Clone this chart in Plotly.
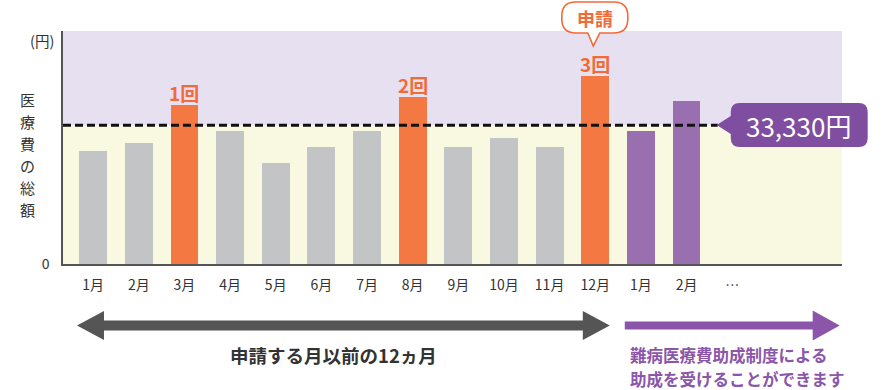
import plotly.graph_objects as go

# ---- data ----
months = ["1月", "2月", "3月", "4月", "5月", "6月", "7月", "8月", "9月", "10月", "11月", "12月", "1月", "2月", "…"]
costs = [27200, 29100, 38300, 32000, 24300, 28200, 32000, 40200, 28200, 30200, 28200, 45100, 32000, 39200]
kinds = ["g", "g", "o", "g", "g", "g", "g", "o", "g", "g", "g", "o", "p", "p"]
count_labels = {2: "1回", 7: "2回", 11: "3回"}
threshold = 33330
threshold_label = "33,330円"
y_title = "医療費の総額"
note_lines = ["難病医療費助成制度による", "助成を受けることができます"]

GRAY = "#c3c4c6"
ORANGE = "#f47841"
ORANGE_T = "#f26a38"
PURPLE = "#9a6fb0"
PURPLE_D = "#7f4ea0"
PURPLE_T = "#8b56a9"
BG_P = "#e7e0f0"
BG_Y = "#f9f8e1"
FONT = "Noto Sans CJK JP"

W, H = 886, 390
L, R, T, B = 63, 842.3, 31, 264
YMAX = 56000

def px(x):
    return (x - L) / (R - L)

def py(y):
    return (B - y) / (B - T)

def P(x, y):
    return f"{px(x):.5f},{py(y):.5f}"

color_map = {"g": GRAY, "o": ORANGE, "p": PURPLE}
xs = list(range(len(costs)))

fig = go.Figure()
fig.add_trace(go.Bar(
    x=xs, y=costs, width=0.61,
    marker=dict(color=[color_map[k] for k in kinds], line=dict(width=0)),
    hoverinfo="skip", showlegend=False,
))

shapes = []
# background bands
shapes.append(dict(type="rect", xref="paper", yref="y", x0=0, x1=1, y0=0, y1=threshold,
                   fillcolor=BG_Y, line=dict(width=0), layer="below"))
shapes.append(dict(type="rect", xref="paper", yref="y", x0=0, x1=1, y0=threshold, y1=YMAX,
                   fillcolor=BG_P, line=dict(width=0), layer="below"))
# dashed threshold line
shapes.append(dict(type="line", xref="paper", yref="y", x0=0, x1=px(718), y0=threshold, y1=threshold,
                   line=dict(color="#111111", width=3, dash="8px,4px"), layer="above"))

# threshold label box with pointer
bx0, bx1, by0, by1, r = 731, 868, 103, 147, 9
path = (f"M {P(bx0 + r, by0)} L {P(bx1 - r, by0)} Q {P(bx1, by0)} {P(bx1, by0 + r)} "
        f"L {P(bx1, by1 - r)} Q {P(bx1, by1)} {P(bx1 - r, by1)} L {P(bx0 + r, by1)} "
        f"Q {P(bx0, by1)} {P(bx0, by1 - r)} L {P(bx0, 134)} L {P(717, 125)} L {P(bx0, 116)} "
        f"L {P(bx0, by0 + r)} Q {P(bx0, by0)} {P(bx0 + r, by0)} Z")
shapes.append(dict(type="path", xref="paper", yref="paper", path=path,
                   fillcolor=PURPLE_D, line=dict(width=0), layer="above"))

# speech bubble 申請
cx0, cx1, cy0, cy1, cr = 562, 628, 2, 33, 14
bpath = (f"M {P(cx0 + cr, cy0)} L {P(cx1 - cr, cy0)} Q {P(cx1, cy0)} {P(cx1, cy0 + cr)} "
         f"L {P(cx1, cy1 - cr)} Q {P(cx1, cy1)} {P(cx1 - cr, cy1)} L {P(600, cy1)} "
         f"L {P(593.5, 46)} L {P(588, cy1)} L {P(cx0 + cr, cy1)} "
         f"Q {P(cx0, cy1)} {P(cx0, cy1 - cr)} L {P(cx0, cy0 + cr)} Q {P(cx0, cy0)} {P(cx0 + cr, cy0)} Z")
shapes.append(dict(type="path", xref="paper", yref="paper", path=bpath,
                   fillcolor="white", line=dict(color=ORANGE_T, width=1.6), layer="above"))

# gray double arrow
gpath = (f"M {P(77, 325.5)} L {P(104, 311)} L {P(104, 320.5)} L {P(583, 320.5)} L {P(583, 311)} "
         f"L {P(610, 325.5)} L {P(583, 340)} L {P(583, 330.5)} L {P(104, 330.5)} L {P(104, 340)} Z")
shapes.append(dict(type="path", xref="paper", yref="paper", path=gpath,
                   fillcolor="#555555", line=dict(width=0)))
# purple arrow
ppath = (f"M {P(625, 321.5)} L {P(813, 321.5)} L {P(813, 310.5)} L {P(840, 325.5)} "
         f"L {P(813, 340.5)} L {P(813, 329.5)} L {P(625, 329.5)} Z")
shapes.append(dict(type="path", xref="paper", yref="paper", path=ppath,
                   fillcolor=PURPLE_T, line=dict(width=0)))

annotations = []
for i, lab in count_labels.items():
    annotations.append(dict(x=i, y=costs[i], xref="x", yref="y", text=f"<b>{lab}</b>",
                            showarrow=False, yanchor="bottom", yshift=-3,
                            font=dict(family=FONT, size=19, color=ORANGE_T)))
annotations.append(dict(x=px(595), y=py(18), xref="paper", yref="paper", text="<b>申請</b>",
                        showarrow=False, xanchor="center", yanchor="middle",
                        font=dict(family=FONT, size=18, color=ORANGE_T)))
annotations.append(dict(x=px(799), y=py(125), xref="paper", yref="paper", text=threshold_label,
                        showarrow=False, xanchor="center", yanchor="middle",
                        font=dict(family=FONT, size=26, color="white")))
annotations.append(dict(x=px(42), y=py(40), xref="paper", yref="paper", text="(円)",
                        showarrow=False, xanchor="center", yanchor="middle",
                        font=dict(family=FONT, size=14.5, color="#333333")))
step = 22
for k, ch in enumerate(y_title):
    annotations.append(dict(x=px(27), y=py(154 + (k - 2.5) * step), xref="paper", yref="paper",
                            text=ch, showarrow=False, xanchor="center", yanchor="middle",
                            borderpad=0,
                            font=dict(family=FONT, size=15, color="#333333")))
annotations.append(dict(x=px(334), y=py(355), xref="paper", yref="paper",
                        text="<b>申請する月以前の12ヵ月</b>",
                        showarrow=False, xanchor="center", yanchor="middle",
                        font=dict(family=FONT, size=18.5, color="#333333")))
for k, line in enumerate(note_lines):
    annotations.append(dict(x=px(629), y=py(354.5 + 24.5 * k), xref="paper", yref="paper",
                            text=f"<b>{line}</b>", showarrow=False, xanchor="left",
                            yanchor="middle", borderpad=0,
                            font=dict(family=FONT, size=16.5, color=PURPLE_T)))

fig.update_layout(
    width=W, height=H, autosize=False,
    margin=dict(l=L, r=W - R, t=T, b=H - B, pad=0),
    paper_bgcolor="white", plot_bgcolor="rgba(0,0,0,0)",
    shapes=shapes, annotations=annotations, bargap=0,
    font=dict(family=FONT, color="#333333"),
    xaxis=dict(range=[-0.661, 16.406], tickvals=list(range(len(months))), ticktext=months,
               showgrid=False, zeroline=False, showline=True, linecolor="#555555", linewidth=1.5,
               ticks="outside", ticklen=7, tickcolor="rgba(0,0,0,0)",
               tickfont=dict(family=FONT, size=14, color="#333333"), fixedrange=True),
    yaxis=dict(range=[0, YMAX], tickvals=[0], ticktext=["0"], showgrid=False, zeroline=False,
               showline=True, linecolor="#555555", linewidth=1.5,
               ticks="outside", ticklen=9, tickcolor="rgba(0,0,0,0)",
               tickfont=dict(family=FONT, size=14, color="#333333"), fixedrange=True),
)

fig.write_html("out.html", post_script="document.body.style.margin='0';",
               config={"displayModeBar": False})
